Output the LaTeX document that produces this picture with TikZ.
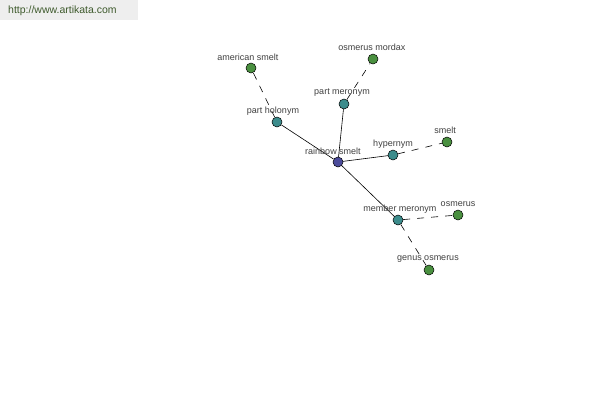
\documentclass[tikz,border=0pt]{standalone}
\usepackage{fontspec}
\setmainfont{Liberation Sans}
\begin{document}
\begin{tikzpicture}[x=1pt,y=-1pt,
  dot/.style={circle,draw=black,line width=0.5pt,minimum size=10pt,inner sep=0pt},
  core/.style={dot,fill=rootblue},
  rel/.style={dot,fill=relteal},
  leaf/.style={dot,fill=leafgreen},
  lbl/.style={font=\fontsize{9}{10}\selectfont,text=labelgray,inner sep=0pt},
  solidedge/.style={draw=black,line width=0.6pt},
  dashedge/.style={draw=black,line width=0.6pt,dash pattern=on 7pt off 7pt}]
\definecolor{rootblue}{HTML}{4B4B9A}
\definecolor{relteal}{HTML}{3C8C8C}
\definecolor{leafgreen}{HTML}{4A9040}
\definecolor{labelgray}{HTML}{404040}
\definecolor{headbg}{HTML}{EEEEEE}
\definecolor{headtext}{HTML}{3E5A2C}
\useasboundingbox (0,0) rectangle (600,400);
\fill[white] (0,0) rectangle (600,400);
\node[fill=headbg,minimum width=138pt,minimum height=20pt,anchor=north west,inner sep=0pt] (head) at (0,0) {};
\node[anchor=west,text=headtext,font=\fontsize{10.5}{12}\selectfont,inner sep=0pt] (url) at (8,11) {http://www.artikata.com};
% nodes
\node[rel] (ph) at (277,122) {};
\node[rel] (pm) at (344,104) {};
\node[rel] (hy) at (393,155) {};
\node[rel] (mm) at (398,220) {};
\node[leaf] (as) at (251,68) {};
\node[leaf] (om) at (373,59) {};
\node[leaf] (sm) at (447,142) {};
\node[leaf] (os) at (458,215) {};
\node[leaf] (go) at (429,270) {};
\node[core] (rs) at (338,162) {};
% edges
\draw[solidedge] (rs) -- (ph);
\draw[solidedge] (rs) -- (pm);
\draw[solidedge] (rs) -- (hy);
\draw[solidedge] (rs) -- (mm);
\draw[dashedge] (ph) -- (as);
\draw[dashedge] (pm) -- (om);
\draw[dashedge] (hy) -- (sm);
\draw[dashedge] (mm) -- (os);
\draw[dashedge] (mm) -- (go);
% labels
\node[lbl] (l-rs) at (333,151) {rainbow smelt};
\node[lbl] (l-ph) at (273,111) {part holonym};
\node[lbl] (l-pm) at (342,93) {part meronym};
\node[lbl] (l-hy) at (393,144) {hypernym};
\node[lbl] (l-mm) at (400,209) {member meronym};
\node[lbl] (l-as) at (248,57) {american smelt};
\node[lbl] (l-om) at (372,47) {osmerus mordax};
\node[lbl] (l-sm) at (445,130) {smelt};
\node[lbl] (l-os) at (458,204) {osmerus};
\node[lbl] (l-go) at (428,259) {genus osmerus};
\end{tikzpicture}
\end{document}
